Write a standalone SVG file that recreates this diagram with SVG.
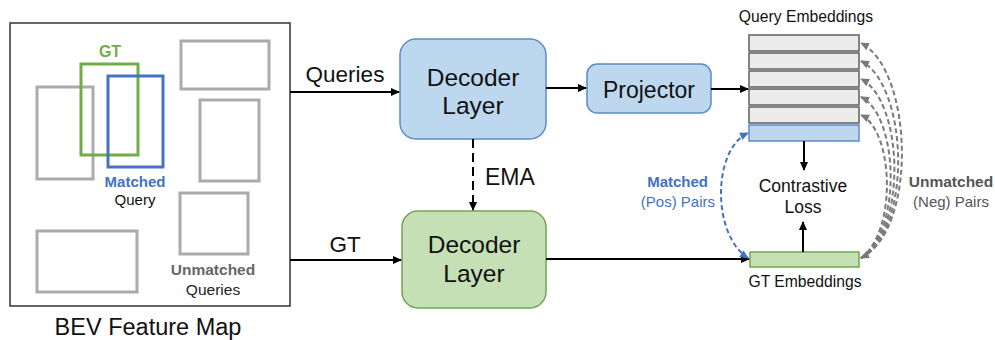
<svg xmlns="http://www.w3.org/2000/svg" width="995" height="340" viewBox="0 0 995 340">
<style>
text{font-family:"Liberation Sans",Arial,sans-serif;fill:#111}
.big{font-size:22.5px}
.dec{font-size:24.5px}
.mid{font-size:17.5px}
.sm{font-size:15px}
.b{font-weight:bold}
.gbox{fill:none;stroke:#ababab;stroke-width:3}
.blue{fill:#bdd7ee;stroke:#5b8cc9;stroke-width:1.5}
.green{fill:#c5e0b4;stroke:#72a552;stroke-width:1.5}
.row{fill:#ececec;stroke:#5f5f5f;stroke-width:1.5}
.line{fill:none;stroke:#000;stroke-width:2}
.gd{fill:none;stroke:#7a7a7a;stroke-width:2;stroke-dasharray:5,3}
.bd{fill:none;stroke:#4472c4;stroke-width:2;stroke-dasharray:5,3}
</style>
<defs>
<marker id="ak" markerWidth="10" markerHeight="10" refX="8" refY="5" orient="auto" markerUnits="userSpaceOnUse"><path d="M0,1 L9,5 L0,9 Z" fill="#000"/></marker>
<marker id="ag" markerWidth="10" markerHeight="10" refX="8" refY="5" orient="auto-start-reverse" markerUnits="userSpaceOnUse"><path d="M0,1 L9,5 L0,9 Z" fill="#7a7a7a"/></marker>
<marker id="ab" markerWidth="10" markerHeight="10" refX="8" refY="5" orient="auto-start-reverse" markerUnits="userSpaceOnUse"><path d="M0,1 L9,5 L0,9 Z" fill="#4472c4"/></marker>
</defs>
<rect width="995" height="340" fill="#fff"/>

<g id="bev">
<rect x="10" y="23" width="280" height="283" fill="#fff" stroke="#333" stroke-width="1.5"/>
<rect class="gbox" x="37" y="87" width="56" height="92"/>
<rect class="gbox" x="181" y="41" width="88" height="48"/>
<rect class="gbox" x="200" y="100" width="59" height="81"/>
<rect class="gbox" x="180" y="193" width="68" height="61"/>
<rect class="gbox" x="37" y="231" width="100" height="61"/>
<rect x="81" y="64" width="57" height="91" fill="none" stroke="#70ad47" stroke-width="3"/>
<rect x="108" y="76" width="55" height="91" fill="none" stroke="#4472c4" stroke-width="3"/>
<text x="110" y="57" text-anchor="middle" class="b" style="font-size:16px;fill:#70ad47">GT</text>
<text x="135" y="187" text-anchor="middle" class="sm b" style="fill:#4472c4">Matched</text>
<text x="135" y="205" text-anchor="middle" class="sm">Query</text>
<text x="213" y="275" text-anchor="middle" class="sm b" style="fill:#666;font-size:15.5px">Unmatched</text>
<text x="213" y="295" text-anchor="middle" class="sm" style="fill:#222;font-size:15.5px">Queries</text>
<text x="148" y="335" text-anchor="middle" style="font-size:23.5px">BEV Feature Map</text>
</g>

<g id="decoder-top">
<rect class="blue" x="400" y="39" width="146" height="100" rx="16"/>
<text x="473" y="86" text-anchor="middle" class="dec">Decoder</text>
<text x="473" y="114" text-anchor="middle" class="dec">Layer</text>
</g>

<g id="decoder-bottom">
<rect class="green" x="402" y="211" width="144" height="97" rx="16"/>
<text x="474" y="253" text-anchor="middle" class="dec">Decoder</text>
<text x="474" y="282" text-anchor="middle" class="dec">Layer</text>
</g>

<g id="projector">
<rect class="blue" x="587" y="64" width="124" height="49" rx="10"/>
<text x="649" y="98" text-anchor="middle" style="font-size:23px">Projector</text>
</g>

<g id="query-embeddings">
<text x="806" y="22" text-anchor="middle" style="font-size:15.7px">Query Embeddings</text>
<rect class="row" x="749" y="35" width="110" height="16"/>
<rect class="row" x="749" y="53" width="110" height="16"/>
<rect class="row" x="749" y="71" width="110" height="16"/>
<rect class="row" x="749" y="89" width="110" height="16"/>
<rect class="row" x="749" y="107" width="110" height="16"/>
<rect class="blue" x="749" y="125" width="110" height="16"/>
</g>

<g id="gt-embeddings">
<rect class="green" x="750" y="252" width="109" height="15"/>
<text x="805" y="287" text-anchor="middle" style="font-size:15.7px">GT Embeddings</text>
</g>

<g id="contrastive-loss">
<text x="803" y="192" text-anchor="middle" class="mid">Contrastive</text>
<text x="803" y="213" text-anchor="middle" class="mid">Loss</text>
</g>

<g id="connectors">
<line class="line" x1="290" y1="92" x2="399" y2="92" marker-end="url(#ak)"/>
<text x="345" y="82" text-anchor="middle" class="big">Queries</text>
<line class="line" x1="290" y1="260" x2="401" y2="260" marker-end="url(#ak)"/>
<text x="345" y="252" text-anchor="middle" class="big">GT</text>
<line class="line" x1="473" y1="139" x2="473" y2="210" stroke-dasharray="9,5" marker-end="url(#ak)"/>
<text x="485" y="185" style="font-size:23px">EMA</text>
<line class="line" x1="546" y1="88" x2="586" y2="88" marker-end="url(#ak)"/>
<line class="line" x1="711" y1="89" x2="748" y2="89" marker-end="url(#ak)"/>
<line class="line" x1="546" y1="259" x2="749" y2="259" marker-end="url(#ak)"/>
<line class="line" x1="804" y1="141" x2="804" y2="170" marker-end="url(#ak)"/>
<line class="line" x1="803" y1="252" x2="803" y2="222" marker-end="url(#ak)"/>
<path class="bd" d="M748,258 C712,235 712,150 748,133" marker-start="url(#ab)" marker-end="url(#ab)"/>
<path class="gd" d="M861,258 C918,230 913,70 861,43" marker-start="url(#ag)" marker-end="url(#ag)"/>
<path class="gd" d="M861,258 C913,230 908,85 861,61" marker-end="url(#ag)"/>
<path class="gd" d="M861,258 C908,230 903,100 861,79" marker-end="url(#ag)"/>
<path class="gd" d="M861,258 C903,230 898,115 861,97" marker-end="url(#ag)"/>
<path class="gd" d="M861,258 C898,230 893,130 861,115" marker-end="url(#ag)"/>
<text x="708" y="187" text-anchor="end" class="sm b" style="fill:#4472c4">Matched</text>
<text x="715" y="207" text-anchor="end" class="sm" style="fill:#4472c4">(Pos) Pairs</text>
<text x="951" y="187" text-anchor="middle" class="sm b" style="fill:#555;font-size:15.5px">Unmatched</text>
<text x="951" y="207" text-anchor="middle" class="sm" style="fill:#555">(Neg) Pairs</text>
</g>
</svg>
